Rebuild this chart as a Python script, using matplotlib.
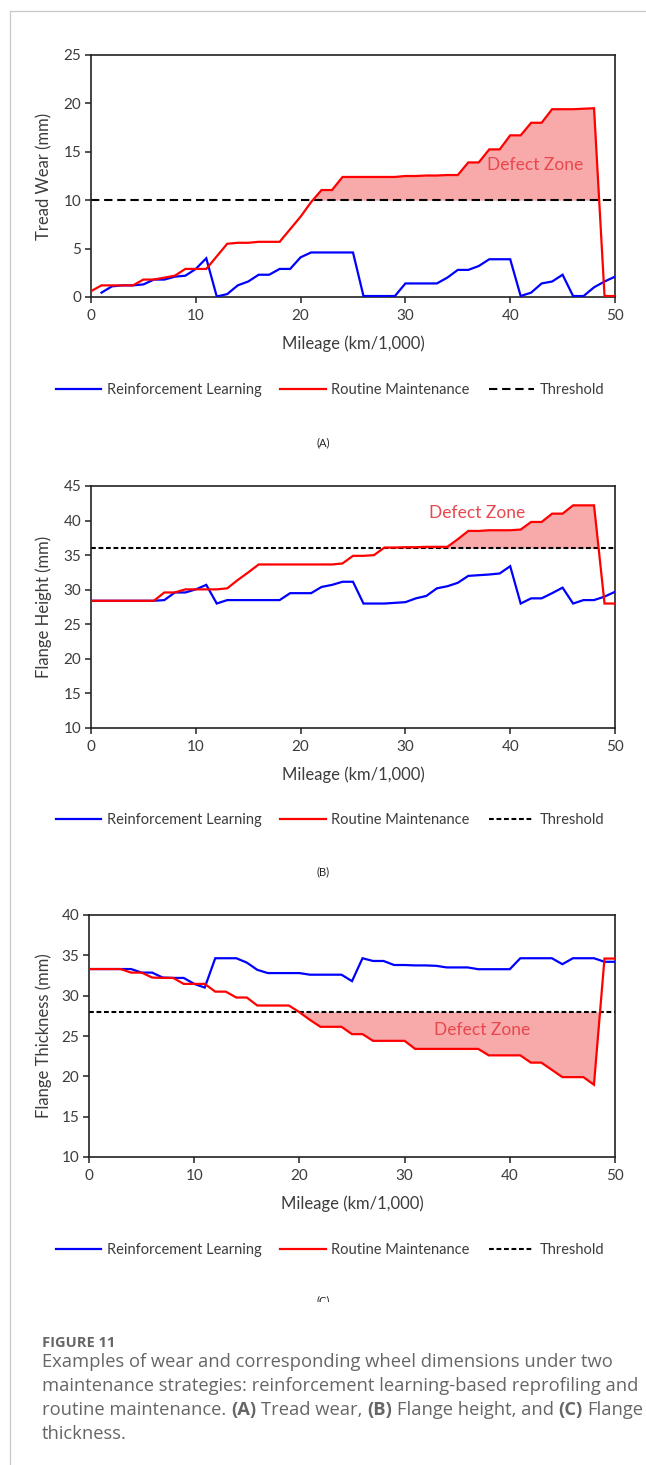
import matplotlib
matplotlib.use("Agg")
import matplotlib.pyplot as plt
import numpy as np
from matplotlib.lines import Line2D
from matplotlib.patches import Rectangle

# ---------------- data ----------------
mileage = np.arange(0, 51)  # km/1,000

tread_rl = [np.nan, 0.45, 1.1, 1.2, 1.2, 1.3, 1.8, 1.8, 2.1, 2.2, 2.9, 4.0, 0.05, 0.3, 1.2,
            1.6, 2.3, 2.3, 2.9, 2.9, 4.1, 4.6, 4.6, 4.6, 4.6, 4.6, 0.1, 0.1, 0.1, 0.1,
            1.4, 1.4, 1.4, 1.4, 2.0, 2.8, 2.8, 3.2, 3.9, 3.9, 3.9, 0.1, 0.45, 1.4, 1.6,
            2.3, 0.1, 0.1, 1.0, 1.6, 2.1]
tread_rm = [0.6, 1.2, 1.2, 1.2, 1.2, 1.8, 1.8, 2.0, 2.2, 2.9, 2.9, 2.9, 4.2, 5.5, 5.6,
            5.6, 5.7, 5.7, 5.7, 7.0, 8.3, 9.8, 11.05, 11.05, 12.4, 12.4, 12.4, 12.4, 12.4,
            12.4, 12.5, 12.5, 12.55, 12.55, 12.6, 12.6, 13.9, 13.9, 15.25, 15.25, 16.7,
            16.7, 18.0, 18.0, 19.4, 19.4, 19.4, 19.45, 19.5, 0.1, 0.1]
tread_threshold = 10

height_rl = [28.4, 28.4, 28.4, 28.4, 28.4, 28.4, 28.4, 28.5, 29.6, 29.6, 30.05, 30.7, 28.0,
             28.5, 28.5, 28.5, 28.5, 28.5, 28.5, 29.5, 29.5, 29.5, 30.4, 30.7, 31.15, 31.15,
             28.0, 28.0, 28.0, 28.1, 28.2, 28.75, 29.1, 30.2, 30.5, 31.0, 32.0, 32.1, 32.2,
             32.35, 33.4, 28.0, 28.75, 28.75, 29.5, 30.3, 28.0, 28.5, 28.5, 29.0, 29.7]
height_rm = [28.4, 28.4, 28.4, 28.4, 28.4, 28.4, 28.4, 29.6, 29.6, 30.05, 30.05, 30.05, 30.05,
             30.2, 31.4, 32.5, 33.65, 33.65, 33.65, 33.65, 33.65, 33.65, 33.65, 33.65, 33.8,
             34.9, 34.9, 35.0, 36.1, 36.1, 36.15, 36.15, 36.2, 36.2, 36.2, 37.3, 38.5, 38.5,
             38.6, 38.6, 38.6, 38.7, 39.8, 39.8, 41.0, 41.0, 42.2, 42.2, 42.2, 28.0, 28.0]
height_threshold = 36

thick_rl = [33.3, 33.3, 33.3, 33.3, 33.3, 32.86, 32.86, 32.25, 32.2, 32.2, 31.46, 31.0, 34.64,
            34.64, 34.64, 34.1, 33.2, 32.8, 32.8, 32.8, 32.8, 32.6, 32.6, 32.6, 32.6, 31.8,
            34.64, 34.3, 34.3, 33.8, 33.8, 33.75, 33.75, 33.7, 33.5, 33.5, 33.5, 33.28, 33.28,
            33.28, 33.28, 34.64, 34.64, 34.64, 34.64, 33.9, 34.64, 34.64, 34.64, 34.2, 34.2]
thick_rm = [33.3, 33.3, 33.3, 33.3, 32.86, 32.86, 32.25, 32.2, 32.2, 31.46, 31.46, 31.46, 30.5,
            30.5, 29.77, 29.77, 28.78, 28.78, 28.78, 28.78, 27.95, 27.0, 26.14, 26.14, 26.14,
            25.23, 25.23, 24.4, 24.4, 24.4, 24.4, 23.4, 23.4, 23.4, 23.4, 23.4, 23.4, 23.4,
            22.6, 22.6, 22.6, 22.6, 21.7, 21.7, 20.8, 19.9, 19.9, 19.9, 18.96, 34.6, 34.6]
thick_threshold = 28

x_ticks = [0, 10, 20, 30, 40, 50]
tread_ticks = [0, 5, 10, 15, 20, 25]
height_ticks = [10, 15, 20, 25, 30, 35, 40, 45]
thick_ticks = [10, 15, 20, 25, 30, 35, 40]

series_labels = ["Reinforcement Learning", "Routine Maintenance", "Threshold"]
y_labels = ["Tread Wear (mm)", "Flange Height (mm)", "Flange Thickness (mm)"]
x_label = "Mileage (km/1,000)"
panel_tags = ["(A)", "(B)", "(C)"]
zone_label = "Defect Zone"
caption_title = "FIGURE 11"

# ---------------- style ----------------
W, H = 646, 1465
FONT = ["Lato", "DejaVu Sans"]
plt.rcParams["font.family"] = FONT
TXT = "#3c3c3c"
BLUE = "#0000FF"
RED = "#FF0000"
FILL = "#F8A9A9"
ZONE = "#E8474E"

fig = plt.figure(figsize=(W / 100, H / 100), dpi=100)
fig.patch.set_facecolor("white")


def fx(px):
    return px / W


def fy(py):
    return 1 - py / H


def make_axes(left, right, top, bottom):
    return fig.add_axes([fx(left), fy(bottom), fx(right) - fx(left), (bottom - top) / H])


panels = [
    dict(box=(91, 615, 55, 297), rl=tread_rl, rm=tread_rm, thr=tread_threshold,
         ylim=(0, 25), yticks=tread_ticks, above=True, zone=(42.4, 13.6),
         dash=(4.0, 2.3), leg_y=390, tag_y=443),
    dict(box=(91, 615, 486, 728), rl=height_rl, rm=height_rm, thr=height_threshold,
         ylim=(10, 45), yticks=height_ticks, above=True, zone=(36.8, 41.1),
         dash=(2.3, 1.3), leg_y=820, tag_y=872),
    dict(box=(89, 615, 915, 1157), rl=thick_rl, rm=thick_rm, thr=thick_threshold,
         ylim=(10, 40), yticks=thick_ticks, above=False, zone=(37.4, 25.7),
         dash=(2.3, 1.3), leg_y=1250, tag_y=1301),
]

for i, p in enumerate(panels):
    left, right, top, bottom = p["box"]
    ax = make_axes(left, right, top, bottom)
    rm = np.array(p["rm"], dtype=float)
    thr = p["thr"]
    where = rm > thr if p["above"] else rm < thr
    ax.fill_between(mileage, rm, thr, where=where, interpolate=True,
                    color=FILL, lw=0, zorder=1)
    ax.axhline(thr, color="black", lw=1.5, dashes=p["dash"], zorder=2)
    l1, = ax.plot(mileage, p["rl"], color=BLUE, lw=1.6, zorder=3, solid_joinstyle="miter")
    l2, = ax.plot(mileage, rm, color=RED, lw=1.6, zorder=4, solid_joinstyle="miter")
    ax.set_xlim(0, 50)
    ax.set_ylim(*p["ylim"])
    ax.set_xticks(x_ticks)
    ax.set_yticks(p["yticks"])
    ax.tick_params(direction="out", length=4, width=1.1, colors="#222222",
                   labelcolor=TXT, labelsize=11, pad=3)
    ax.tick_params(axis="x", pad=5)
    for s in ax.spines.values():
        s.set_color("#222222")
        s.set_linewidth(1.2)
    ax.text(p["zone"][0], p["zone"][1], zone_label, color=ZONE, fontsize=12.5,
            ha="center", va="center", zorder=5)

    # axis labels
    fig.text(fx((left + right) / 2), fy(bottom + 47), x_label, ha="center", va="center",
             fontsize=12, color=TXT)
    fig.text(fx(44), fy((top + bottom) / 2), y_labels[i], rotation=90, ha="center",
             va="center", fontsize=12, color=TXT)

    # legend
    h3 = Line2D([], [], color="black", lw=1.5, dashes=p["dash"])
    fig.legend([l1, l2, h3], series_labels, loc="center",
               bbox_to_anchor=(fx(330), fy(p["leg_y"])), ncol=3, frameon=False,
               fontsize=10.5, handlelength=3.1, handletextpad=0.4, columnspacing=1.3,
               labelcolor=TXT)

    fig.text(fx(323), fy(p["tag_y"]), panel_tags[i], ha="center", va="center",
             fontsize=8, color="#222222")

# clip the bottom of the last panel tag as in the source image
fig.add_artist(Rectangle((fx(12), fy(1318)), 1, fy(1302) - fy(1318), transform=fig.transFigure,
                         facecolor="white", edgecolor="none", zorder=20))

# page frame lines
fig.add_artist(Line2D([fx(10), fx(10)], [0, fy(11)], transform=fig.transFigure,
                      color="#c8c8c8", lw=0.9, zorder=30))
fig.add_artist(Line2D([fx(10), 1], [fy(11), fy(11)], transform=fig.transFigure,
                      color="#c8c8c8", lw=0.9, zorder=30))

# ---------------- caption ----------------
CAP = ["Open Sans", "DejaVu Sans"]
CAPC = "#666666"
renderer = fig.canvas.get_renderer()


def text_width(s, weight, size):
    t = fig.text(0, 0, s, fontsize=size, fontweight=weight, family=CAP)
    w = t.get_window_extent(renderer).width
    t.remove()
    return w


caption_lines = [
    [("Examples of wear and corresponding wheel dimensions under two", "normal")],
    [("maintenance strategies: reinforcement learning-based reprofiling and", "normal")],
    [("routine maintenance. ", "normal"), ("(A)", "bold"), (" Tread wear, ", "normal"),
     ("(B)", "bold"), (" Flange height, and ", "normal"), ("(C)", "bold"),
     (" Flange", "normal")],
    [("thickness.", "normal")],
]

# fit the caption so the first line spans the same width as in the source
CAPSIZE = 12 * 566 / text_width(caption_lines[0][0][0], "normal", 12)
space_w = text_width("a a", "normal", CAPSIZE) - text_width("aa", "normal", CAPSIZE)

fig.text(fx(42), fy(1343), caption_title, fontsize=CAPSIZE * 0.8, fontweight="bold",
         family=CAP, color=CAPC, ha="left", va="center")


def rich_line(x_px, y_px, segments):
    x = x_px
    for s, weight in segments:
        lead = len(s) - len(s.lstrip(" "))
        trail = len(s) - len(s.rstrip(" "))
        core = s.strip(" ")
        x += lead * space_w
        t = fig.text(fx(x), fy(y_px), core, fontsize=CAPSIZE, fontweight=weight, family=CAP,
                     color=CAPC, ha="left", va="center")
        x += t.get_window_extent(renderer).width
        x += trail * space_w


for k, segs in enumerate(caption_lines):
    rich_line(42, 1362 + 24 * k, segs)

fig.savefig("out.png", dpi=100, facecolor="white")
